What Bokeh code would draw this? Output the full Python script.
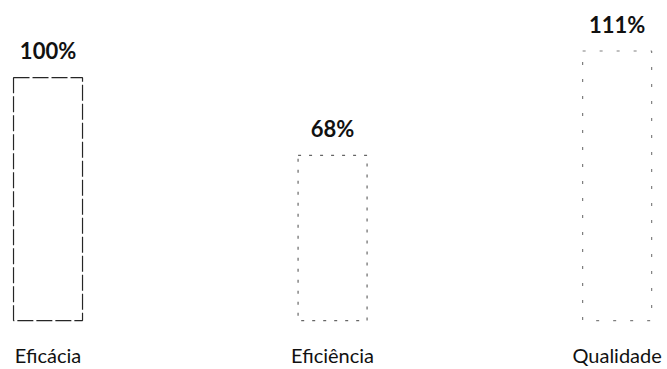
from bokeh.plotting import figure
from bokeh.models import Range1d, ColumnDataSource, FixedTicker
from bokeh.core.properties import value
from bokeh.embed import file_html
from bokeh.resources import INLINE

# Indicator values (percent)
categories = ["Eficácia", "Eficiência", "Qualidade"]
values = [100, 68, 111]
value_labels = ["100%", "68%", "111%"]

xs = list(range(len(categories)))

# Frame spans 0..326 px; bars start at 0% a little above the frame bottom
p = figure(width=667, height=369, output_backend="svg", toolbar_location=None,
           x_range=Range1d(-0.167, 2.177), y_range=Range1d(-1.22, 131.8),
           min_border_left=0, min_border_right=0, min_border_top=0,
           min_border_bottom=43)

# Hollow bars with broken dashed outlines
bar_styles = [
    dict(line_dash="16 3", line_alpha=0.85),
    dict(line_dash="3 8", line_alpha=0.6),
    dict(line_dash="3 14", line_alpha=0.5),
]
for i, style in enumerate(bar_styles):
    src = ColumnDataSource(dict(x=[xs[i]], top=[values[i]]))
    p.vbar(x="x", top="top", bottom=0, width=0.2425, source=src,
           fill_color="white", line_color="black", line_width=1.2, **style)

labels_src = ColumnDataSource(dict(x=xs, y=values, text=value_labels))
p.text(x="x", y="y", text="text", source=labels_src,
       text_font=value("Lato"), text_font_style="bold", text_font_size="22px",
       text_color="#111111", text_align="center", text_baseline="middle",
       y_offset=-27)

p.xaxis.ticker = FixedTicker(ticks=xs)
p.xaxis.major_label_overrides = {i: c for i, c in enumerate(categories)}
p.xaxis.major_label_text_font = "Lato"
p.xaxis.major_label_text_font_size = "20px"
p.xaxis.major_label_text_color = "#111111"
p.xaxis.major_label_standoff = 19
p.xaxis.axis_line_color = None
p.xaxis.major_tick_line_color = None
p.xaxis.minor_tick_line_color = None
p.xaxis.major_tick_out = 0
p.xaxis.major_tick_in = 0
p.yaxis.visible = False
p.xgrid.visible = False
p.ygrid.visible = False
p.outline_line_color = None

open("out.html", "w").write(file_html(p, INLINE))
